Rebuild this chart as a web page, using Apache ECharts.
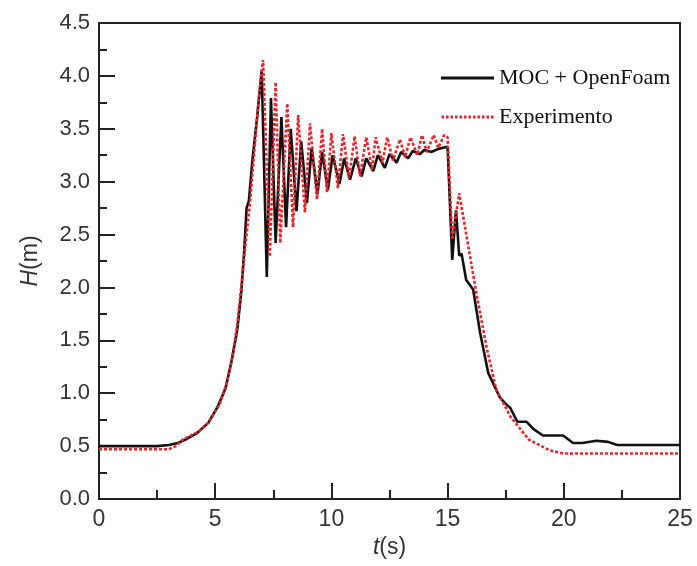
<!DOCTYPE html>
<html>
<head>
<meta charset="utf-8">
<script src="https://cdn.jsdelivr.net/npm/echarts@6/dist/echarts.min.js"></script>
<style>
html,body{margin:0;padding:0;background:#fff;}
#chart{width:697px;height:566px;}
</style>
</head>
<body>
<div id="chart"></div>
<script>
// Series names
const seriesNames = ['MOC + OpenFoam', 'Experimento'];

// MOC + OpenFoam: time (s)
const mocT = [0, 1, 2, 2.5, 3, 3.4, 3.7, 4.2, 4.7, 5.1, 5.45, 5.7, 5.95, 6.12, 6.25, 6.35, 6.45, 6.6, 6.8, 7.0,
  7.22, 7.4, 7.6, 7.85, 8.05, 8.25, 8.5, 8.7, 8.95, 9.15, 9.4, 9.6, 9.85, 10.05, 10.35, 10.55, 10.8, 11.05, 11.3, 11.5,
  11.8, 12.0, 12.3, 12.5, 12.8, 13.0, 13.3, 13.5, 13.8, 14.0, 14.3, 14.6, 15.0, 15.2, 15.36, 15.5, 15.6, 15.8, 16.1, 16.4,
  16.75, 17.25, 17.5, 17.6, 17.7, 18.0, 18.4, 18.7, 19.1, 19.97, 20.4, 20.8, 21.4, 21.9, 22.3, 23, 24, 25];
// MOC + OpenFoam: head H (m)
const mocH = [0.50, 0.50, 0.50, 0.50, 0.51, 0.53, 0.56, 0.62, 0.72, 0.87, 1.05, 1.30, 1.60, 1.95, 2.35, 2.75, 2.82, 3.20, 3.60, 4.05,
  2.10, 3.79, 2.42, 3.61, 2.57, 3.50, 2.72, 3.38, 2.80, 3.32, 2.88, 3.28, 2.92, 3.25, 2.98, 3.22, 3.02, 3.22, 3.05, 3.22,
  3.10, 3.25, 3.13, 3.26, 3.18, 3.28, 3.22, 3.29, 3.26, 3.30, 3.28, 3.31, 3.33, 2.26, 2.73, 2.30, 2.32, 2.07, 1.98, 1.57,
  1.19, 0.96, 0.90, 0.88, 0.86, 0.73, 0.73, 0.66, 0.60, 0.60, 0.53, 0.53, 0.55, 0.54, 0.51, 0.51, 0.51, 0.51];

// Experimento: time (s)
const expT = [0, 1, 2, 3, 3.3, 3.6, 4.3, 4.7, 5.2, 5.5, 5.75, 5.95, 6.12, 6.3, 6.5, 6.65, 6.8, 6.95, 7.06,
  7.35, 7.6, 7.8, 8.1, 8.35, 8.57, 8.86, 9.08, 9.38, 9.6, 9.81, 10.0, 10.28, 10.5, 10.76, 11.0, 11.23, 11.5, 11.75, 11.9,
  12.2, 12.4, 12.65, 12.95, 13.17, 13.4, 13.7, 13.9, 14.1, 14.4, 14.6, 14.85, 15.0, 15.2, 15.5, 16.25, 16.7, 17.1, 17.7,
  18.5, 19.4, 19.97, 21, 23, 25];
// Experimento: head H (m)
const expH = [0.47, 0.47, 0.47, 0.47, 0.50, 0.56, 0.64, 0.72, 0.90, 1.10, 1.35, 1.65, 2.00, 2.40, 2.80, 3.20, 3.60, 3.95, 4.15,
  2.29, 3.94, 2.42, 3.74, 2.57, 3.63, 2.71, 3.55, 2.83, 3.50, 2.90, 3.46, 2.94, 3.45, 3.03, 3.43, 3.05, 3.42, 3.11, 3.42,
  3.18, 3.42, 3.20, 3.40, 3.23, 3.42, 3.25, 3.44, 3.28, 3.44, 3.32, 3.44, 3.42, 2.45, 2.89, 1.93, 1.41, 1.03, 0.78,
  0.56, 0.46, 0.43, 0.43, 0.43, 0.43];

// Axis tick values
const xTicks = [0, 5, 10, 15, 20, 25];
const yTicks = [0.0, 0.5, 1.0, 1.5, 2.0, 2.5, 3.0, 3.5, 4.0, 4.5];

const zip = (a, b) => a.map((v, i) => [v, b[i]]);

// legend icons (solid bar, dotted bar)
const solidIcon = 'path://M0,0 L53,0 L53,3 L0,3 Z';
let dotted = '';
for (let x = 0; x < 53; x += 4.5) dotted += `M${x},0 h2.5 v3 h-2.5 Z `;
const dottedIcon = 'path://' + dotted.trim();

const chart = echarts.init(document.getElementById('chart'), null, {renderer: 'canvas'});
const sans = 'Liberation Sans, Arial, sans-serif';
const nameStyle = {fontFamily: sans, fontSize: 23, color: '#333',
  rich: {i: {fontStyle: 'italic', fontFamily: sans, fontSize: 23, color: '#333'}}};

chart.setOption({
  animation: false,
  backgroundColor: '#fff',
  grid: {left: 99, top: 23, right: 17, bottom: 67, show: true, borderColor: '#222', borderWidth: 2, backgroundColor: 'transparent'},
  legend: {
    orient: 'vertical', left: 436, top: 62, itemWidth: 53, itemHeight: 3, itemGap: 17,
    textStyle: {fontFamily: 'Liberation Serif, Times New Roman, serif', fontSize: 22, color: '#111'},
    data: [
      {name: seriesNames[0], icon: solidIcon, itemStyle: {color: '#111'}},
      {name: seriesNames[1], icon: dottedIcon, itemStyle: {color: '#e8232b'}}
    ]
  },
  xAxis: {
    type: 'value', min: 0, max: 25, interval: 5,
    name: '{i|t}(s)', nameLocation: 'middle', nameGap: 37,
    nameTextStyle: nameStyle,
    axisLine: {show: true, onZero: false, lineStyle: {color: '#222', width: 2}},
    axisTick: {show: true, inside: true, length: 16, lineStyle: {color: '#222', width: 2}},
    minorTick: {show: true, splitNumber: 2, length: 9, lineStyle: {color: '#222', width: 2}},
    splitLine: {show: false},
    axisLabel: {margin: 9, fontFamily: sans, fontSize: 23, color: '#333',
      formatter: v => xTicks.includes(v) ? String(v) : ''}
  },
  yAxis: {
    type: 'value', min: 0, max: 4.5, interval: 0.5,
    name: '{i|H}(m)', nameLocation: 'middle', nameGap: 57, nameRotate: 90,
    nameTextStyle: nameStyle,
    axisLine: {show: true, onZero: false, lineStyle: {color: '#222', width: 2}},
    axisTick: {show: true, inside: true, length: 16, lineStyle: {color: '#222', width: 2}},
    minorTick: {show: true, splitNumber: 2, length: 8, lineStyle: {color: '#222', width: 2}},
    splitLine: {show: false},
    axisLabel: {margin: 9, fontFamily: sans, fontSize: 22, color: '#333', formatter: v => {
      const m = yTicks.find(t => Math.abs(t - v) < 1e-9);
      return m === undefined ? '' : m.toFixed(1);
    }}
  },
  series: [
    {
      name: seriesNames[0], type: 'line', data: zip(mocT, mocH), symbol: 'none', z: 2,
      lineStyle: {color: '#111', width: 2.6}, itemStyle: {color: '#111'}
    },
    {
      name: seriesNames[1], type: 'line', data: zip(expT, expH), symbol: 'none', z: 3,
      lineStyle: {color: '#e8232b', width: 2.6, type: [3, 2]}, itemStyle: {color: '#e8232b'}
    }
  ]
});
</script>
</body>
</html>
